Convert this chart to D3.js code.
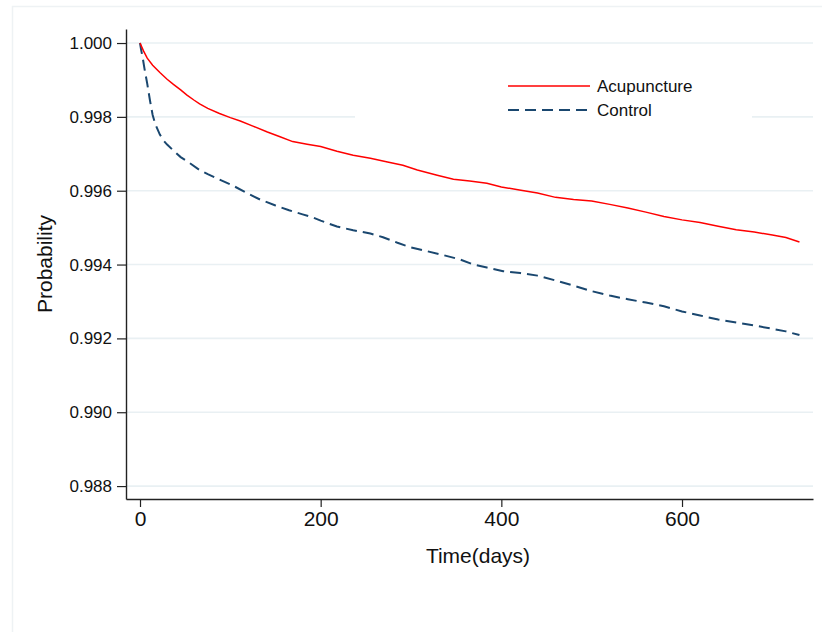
<!DOCTYPE html>
<html>
<head>
<meta charset="utf-8">
<script src="https://cdn.jsdelivr.net/npm/d3@7"></script>
<style>
  body { margin: 0; background: #fff; }
  text { font-family: "Liberation Sans", Arial, sans-serif; fill: #111; }
</style>
</head>
<body>
<svg></svg>
<script>
var width = 822;
var height = 632;

// Kaplan-Meier estimates
var acuTime = [0, 4, 8, 14, 22, 30, 37, 45, 52, 60, 66, 75, 88, 100, 111, 125, 141, 155, 169, 185, 200, 218, 236, 255, 274, 291, 307, 329, 347, 365, 384, 400, 420, 440, 460, 480, 500, 520, 540, 560, 580, 600, 620, 640, 660, 680, 700, 715, 730];
var acuSurv = [1.0, 0.99978, 0.99959, 0.99940, 0.99920, 0.99902, 0.99888, 0.99873, 0.99859, 0.99845, 0.99835, 0.99823, 0.99809, 0.99798, 0.99789, 0.99775, 0.99759, 0.99746, 0.99733, 0.99726, 0.99720, 0.99707, 0.99696, 0.99688, 0.99678, 0.99669, 0.99656, 0.99642, 0.99631, 0.99626, 0.99620, 0.99610, 0.99602, 0.99594, 0.99582, 0.99576, 0.99572, 0.99563, 0.99553, 0.99542, 0.99530, 0.99521, 0.99514, 0.99504, 0.99494, 0.99488, 0.99480, 0.99473, 0.99461];

var ctlTime = [0, 1, 3, 5, 8, 11, 14, 17, 22, 26, 30, 36, 45, 55, 66, 75, 90, 102, 118, 133, 150, 165, 180, 192, 200, 218, 236, 255, 269, 285, 299, 318, 335, 354, 369, 384, 402, 421, 440, 460, 480, 500, 520, 540, 560, 580, 600, 620, 640, 660, 680, 700, 715, 730];
var ctlSurv = [1.0, 0.99985, 0.99960, 0.99930, 0.99890, 0.99845, 0.99805, 0.99780, 0.99752, 0.99736, 0.99725, 0.99711, 0.99691, 0.99675, 0.99656, 0.99645, 0.99628, 0.99615, 0.99594, 0.99576, 0.99560, 0.99547, 0.99536, 0.99527, 0.99519, 0.99503, 0.99493, 0.99484, 0.99474, 0.99459, 0.99447, 0.99436, 0.99426, 0.99414, 0.99400, 0.99392, 0.99382, 0.99377, 0.99370, 0.99357, 0.99343, 0.99328, 0.99316, 0.99306, 0.99297, 0.99287, 0.99273, 0.99262, 0.99251, 0.99243, 0.99235, 0.99226, 0.99219, 0.99209];

var yTicks = [1.0, 0.998, 0.996, 0.994, 0.992, 0.990, 0.988];
var xTicks = [0, 200, 400, 600];
var seriesNames = ["Acupuncture", "Control"];

var acuData = acuTime.map((t, i) => ({ t: t, s: acuSurv[i] }));
var ctlData = ctlTime.map((t, i) => ({ t: t, s: ctlSurv[i] }));

// prettier-ignore
var svg = d3.select("svg")
              .attr("width", width)
              .attr("height", height);

// outer graph region frame
// prettier-ignore
svg.append("rect")
   .attr("x", 12.5)
   .attr("y", 6.5)
   .attr("width", 830)
   .attr("height", 650)
   .attr("fill", "none")
   .attr("stroke", "#eef2f4")
   .attr("stroke-width", 1.5);

// prettier-ignore
var xScale = d3.scaleLinear()
               .domain([-15.5, 745])
               .range([126, 813]);

// prettier-ignore
var yScale = d3.scaleLinear()
               .domain([0.98765, 1.00038])
               .range([499, 29]);

// grid lines
// prettier-ignore
svg.append("g")
   .selectAll("line")
   .data(yTicks)
   .enter()
     .append("line")
     .attr("x1", xScale.range()[0])
     .attr("x2", xScale.range()[1])
     .attr("y1", d => yScale(d))
     .attr("y2", d => yScale(d))
     .attr("stroke", "#e9f0f3")
     .attr("stroke-width", 1.6);

// legend background knocks out the grid
// prettier-ignore
svg.append("rect")
   .attr("x", 355)
   .attr("y", 58)
   .attr("width", 397)
   .attr("height", 82)
   .attr("fill", "#fff");

// prettier-ignore
var yAxis = svg.append("g")
   .attr("transform", "translate(" + xScale.range()[0] + ",0)")
   .call(d3.axisLeft(yScale)
           .tickValues(yTicks)
           .tickFormat(d3.format(".3f"))
           .tickSize(9)
           .tickSizeOuter(0)
           .tickPadding(5));

// prettier-ignore
var xAxis = svg.append("g")
   .attr("transform", "translate(0," + yScale.range()[0] + ")")
   .call(d3.axisBottom(xScale)
           .tickValues(xTicks)
           .tickSize(8)
           .tickSizeOuter(0)
           .tickPadding(4));

svg.selectAll(".domain").attr("stroke", "#222").attr("stroke-width", 1.4);
svg.selectAll(".tick line").attr("stroke", "#222").attr("stroke-width", 1.2);

// prettier-ignore
yAxis.selectAll("text")
     .style("font-family", "Liberation Sans, Arial, sans-serif")
     .style("font-size", "17px")
     .attr("fill", "#111");

// prettier-ignore
xAxis.selectAll("text")
     .style("font-family", "Liberation Sans, Arial, sans-serif")
     .style("font-size", "21px")
     .attr("fill", "#111");

// prettier-ignore
var line = d3.line()
             .x(d => xScale(d.t))
             .y(d => yScale(d.s));

// prettier-ignore
svg.append("path")
   .datum(ctlData)
   .attr("d", line)
   .attr("fill", "none")
   .attr("stroke", "#1a476f")
   .attr("stroke-width", 2)
   .attr("stroke-dasharray", "11,6");

// prettier-ignore
svg.append("path")
   .datum(acuData)
   .attr("d", line)
   .attr("fill", "none")
   .attr("stroke", "#ff0000")
   .attr("stroke-width", 1.5);

// legend
var legendStyles = [
  { color: "#ff0000", dash: null, w: 1.5 },
  { color: "#1a476f", dash: "11,6", w: 2 }
];

// prettier-ignore
var legend = svg.append("g")
   .selectAll("g")
   .data(seriesNames)
   .enter()
     .append("g")
     .attr("transform", (d, i) => "translate(0," + (86 + i * 24) + ")");

// prettier-ignore
legend.append("line")
      .attr("x1", 508)
      .attr("x2", 590)
      .attr("stroke", (d, i) => legendStyles[i].color)
      .attr("stroke-width", (d, i) => legendStyles[i].w)
      .attr("stroke-dasharray", (d, i) => legendStyles[i].dash);

// prettier-ignore
legend.append("text")
      .attr("x", 597)
      .attr("y", 6)
      .style("font-size", "17px")
      .text(d => d);

// prettier-ignore
svg.append("text")
   .attr("x", 478)
   .attr("y", 563)
   .attr("text-anchor", "middle")
   .style("font-size", "21px")
   .text("Time(days)");

// prettier-ignore
svg.append("text")
   .attr("transform", "rotate(-90)")
   .attr("x", -264)
   .attr("y", 52)
   .attr("text-anchor", "middle")
   .style("font-size", "21px")
   .text("Probability");
</script>
</body>
</html>
